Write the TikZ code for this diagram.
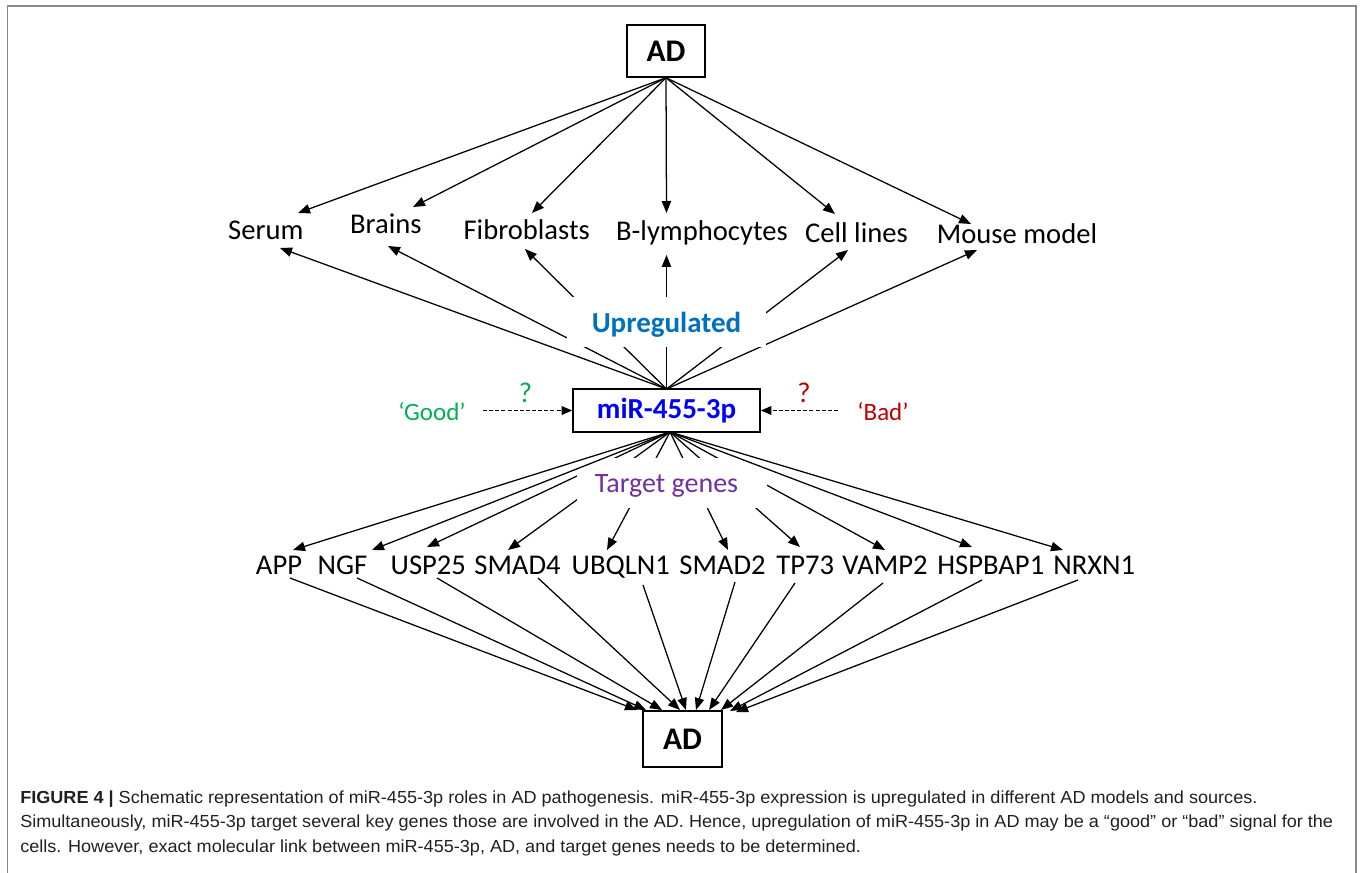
\documentclass[tikz,border=0pt]{standalone}
\usepackage{graphicx}
\usepackage{fontspec}
\setmainfont{Carlito}
\newfontfamily\capfont{Liberation Sans}
\usetikzlibrary{arrows.meta}
\definecolor{upblue}{HTML}{0070C0}
\definecolor{mirblue}{HTML}{0000FF}
\definecolor{tgpurple}{HTML}{7030A0}
\definecolor{goodgreen}{HTML}{00B050}
\definecolor{badred}{HTML}{C00000}
\definecolor{framegray}{HTML}{8A8A8A}
\definecolor{captext}{HTML}{231F20}
\newlength\capw
\AtBeginDocument{%
  \settowidth\capw{\capfont\fontsize{13.1}{16}\selectfont Simultaneously, miR-455-3p target several key genes those are involved in the AD. Hence, upregulation of miR-455-3p in AD may be a “good” or “bad” signal for the}%
  \pgfmathsetmacro\capfac{984.75/\capw}%
  \xdef\capfac{\capfac}%
}
\tikzset{
  lbl/.style={inner sep=0, anchor=base, font=\fontsize{21.45}{24}\selectfont},
  boxnode/.style={draw, line width=1.1pt, inner sep=0, font=\fontsize{23.6}{26}\selectfont\bfseries},
  arr/.style={line width=0.95pt, -{Triangle[length=9pt,width=7pt]}},
  darr/.style={line width=0.95pt, dash pattern=on 3pt off 1.6pt, -{Triangle[length=8pt,width=6.5pt]}},
  masknode/.style={fill=white, inner sep=0},
  capline/.style={anchor=base west, inner sep=0, text=captext},
}
\begin{document}
\begin{tikzpicture}[x=0.75pt,y=-0.75pt]
\useasboundingbox (0,0) rectangle (1362,873);
% frame
\draw[framegray, line width=1.3pt] (7.5,873) -- (7.5,6) -- (1356,6) -- (1356,873);

% main boxes
\node[boxnode, minimum width=58.5pt, minimum height=39pt] (adtop) at (666,51) {AD};
\node[boxnode, minimum width=140.25pt, minimum height=32.25pt, text=mirblue,
      font=\fontsize{21.75}{24}\selectfont\bfseries] (mir) at (666.5,410.5) {miR-455-3p};
\node[boxnode, minimum width=59.25pt, minimum height=42pt] (adbot) at (682.5,739) {AD};
\coordinate (mirN) at (666.5,389);
\coordinate (mirS) at (670,432);

% source labels and arrow end points
\foreach \n/\lx/\ly/\ax/\ay/\bx/\by [count=\i] in {
  Serum/265.8/240/298/213/280/248,
  Brains/385.8/234/413/207/388/246,
  Fibroblasts/526.7/240/532/213/525/249,
  B-lymphocytes/702/240.7/666.5/213/666.5/255,
  Cell lines/856.5/242.7/835/214/848/250,
  Mouse model/1017/244/971/224/977/250}{
  \node[lbl] (s\i) at (\lx,\ly) {\n};
  \coordinate (sa\i) at (\ax,\ay);
  \coordinate (sb\i) at (\bx,\by);
}
\foreach \i in {1,...,6}{
  \draw[arr] (adtop.south) -- (sa\i);
  \draw[arr] (mirN) -- (sb\i);
}
% Upregulated label over the fan
\node[masknode, minimum width=149.25pt, minimum height=37.5pt] (upmask) at (666.5,322) {};
\node[lbl, text=upblue, font=\fontsize{21.75}{24}\selectfont\bfseries] (up) at (666.5,333) {Upregulated};

% Good / Bad
\node[lbl, text=goodgreen, font=\fontsize{18.75}{21}\selectfont] (good) at (432,420) {‘Good’};
\node[lbl, text=badred, font=\fontsize{18.75}{21}\selectfont] (bad) at (883,420) {‘Bad’};
\node[lbl, text=goodgreen] (qg) at (525.5,402) {?};
\node[lbl, text=badred] (qb) at (804,402) {?};
\coordinate (gstart) at (483,410.5);
\coordinate (bstart) at (838,410.5);
\draw[darr] (gstart) -- (mir.west);
\draw[darr] (bstart) -- (mir.east);

% genes
\foreach \n/\lx/\ax/\ay/\sx/\sy/\ex/\ey [count=\i] in {
  APP/279/293/550/290/578/637/710,
  NGF/342.5/372/550/357/578/646/710,
  USP25/428.3/427/547/437/578/662/710,
  SMAD4/517.5/508/550/538/578/680/710,
  UBQLN1/620.8/607/550/643/585/686/710,
  SMAD2/722.5/728/550/735/582/696/710,
  TP73/805.3/800/547/795/583/709/710,
  VAMP2/885/885/550/883/583/721/710,
  HSPBAP1/990.8/972/547/982/580/730/711,
  NRXN1/1094.2/1063/550/1078/580/736/712}{
  \node[lbl] (g\i) at (\lx,574) {\n};
  \coordinate (gin\i) at (\ax,\ay);
  \coordinate (gout\i) at (\sx,\sy);
  \coordinate (adin\i) at (\ex,\ey);
  \draw[arr] (gout\i) -- (adin\i);
}
\foreach \i in {3,...,8}{ \draw[arr] (mirS) -- (gin\i); }
\node[masknode, minimum width=142.5pt, minimum height=37.5pt] (tgmask) at (672,483) {};
\node[lbl, text=tgpurple, font=\fontsize{21}{24}\selectfont] (tg) at (666.5,492) {Target genes};
\foreach \i in {1,2,9,10}{ \draw[arr] (mirS) -- (gin\i); }

% caption
\node[capline] (cap1) at (20,803) {\scalebox{\capfac}[1]{\capfont\fontsize{13.1}{16}\selectfont\textbf{FIGURE 4 |} Schematic representation of miR-455-3p roles in AD pathogenesis. miR-455-3p expression is upregulated in different AD models and sources.}};
\node[capline] (cap2) at (20,827.5) {\scalebox{\capfac}[1]{\capfont\fontsize{13.1}{16}\selectfont Simultaneously, miR-455-3p target several key genes those are involved in the AD. Hence, upregulation of miR-455-3p in AD may be a “good” or “bad” signal for the}};
\node[capline] (cap3) at (20,852) {\scalebox{\capfac}[1]{\capfont\fontsize{13.1}{16}\selectfont cells. However, exact molecular link between miR-455-3p, AD, and target genes needs to be determined.}};
\end{tikzpicture}
\end{document}
